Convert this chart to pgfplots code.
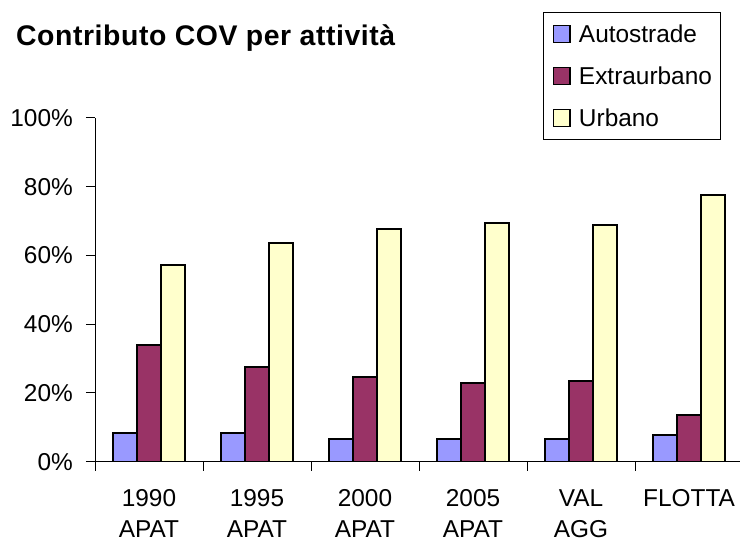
\documentclass[border=0pt]{standalone}
\usepackage{fontspec}
\setmainfont{Liberation Sans}
\usepackage{pgfplots}
\pgfplotsset{compat=1.18}
\definecolor{cblue}{HTML}{9999FF}
\definecolor{cmaroon}{HTML}{993366}
\definecolor{cyellow}{HTML}{FFFFCC}
\begin{document}
\begin{tikzpicture}[x=1bp,y=1bp]
\useasboundingbox (0,0) rectangle (740,544);
\node[anchor=base west, inner sep=0pt, font=\fontsize{28.5}{34}\selectfont\bfseries\addfontfeature{LetterSpace=2}] at (16,498.5) {Contributo COV per attività};
\begin{axis}[
  at={(95bp,82.3bp)}, anchor=south west,
  scale only axis, width=648bp, height=343.7bp,
  xmin=-0.5, xmax=5.5, ymin=0, ymax=100,
  axis x line*=bottom, axis y line*=left,
  ybar=0pt, bar width=24bp,
  xtick={-0.5,0.5,...,5.5}, x tick label as interval,
  xticklabels={{1990\\APAT},{1995\\APAT},{2000\\APAT},{2005\\APAT},{VAL\\AGG},{FLOTTA}},
  ytick={0,20,...,100},
  yticklabel={\pgfmathprintnumber{\tick}\%},
  /pgf/number format/assume math mode=true,
  tick align=outside, major tick length=9bp,
  tick style={black, line width=1bp},
  axis line style={black, line width=1bp},
  ticklabel style={font=\fontsize{24.5}{31.5}\selectfont},
  xticklabel style={align=center, inner sep=0pt, anchor=north, yshift=-18.5bp},
  yticklabel style={inner sep=0pt, anchor=east, xshift=-13bp},
  legend style={at={(axis description cs:0.6918,1.3075)}, anchor=north west,
    draw=black, line width=1bp, inner xsep=9bp, inner ysep=12.3bp,
    row sep=24.2bp, column sep=8.4bp,
    font=\fontsize{24.5}{24.5}\selectfont,
    nodes={inner sep=0pt, text height=17.5bp, text depth=0pt}},
  legend cell align=left,
  legend image code/.code={\draw[#1, line width=1.2bp] (0bp,-8.3bp) rectangle (16.6bp,8.3bp);},
]
\addplot[fill=cblue, draw=black, line width=2bp] coordinates {(0,8.3) (1,8.3) (2,6.5) (3,6.5) (4,6.5) (5,7.8)};
\addplot[fill=cmaroon, draw=black, line width=2bp] coordinates {(0,33.9) (1,27.5) (2,24.6) (3,22.8) (4,23.6) (5,13.6)};
\addplot[fill=cyellow, draw=black, line width=2bp] coordinates {(0,57.2) (1,63.6) (2,67.8) (3,69.4) (4,68.9) (5,77.6)};
\legend{Autostrade,Extraurbano,Urbano}
\end{axis}
\end{tikzpicture}
\end{document}
